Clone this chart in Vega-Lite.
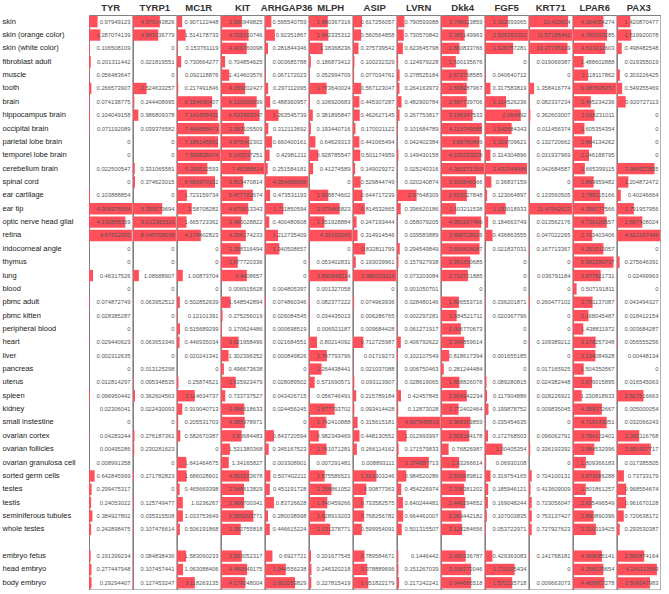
{
  "$schema": "https://vega.github.io/schema/vega-lite/v6.json",
  "padding": {"left": 2, "top": 2, "right": 0, "bottom": 0},
  "background": "white",
  "bounds": "flush",
  "config": {"view": {"stroke": "#808080", "strokeWidth": 1}, "font": "Liberation Sans"},
  "data": {"values": [
    {"t": "skin", "TYR": 0.97949123, "TYRP1": 4.979143826, "MC1R": 0.907122448, "KIT": 3.586949825, "ARHGAP36": 0.595540759, "MLPH": 1.890367316, "ASIP": 0.617256057, "LVRN": 0.790593088, "Dkk4": 2.788113859, "FGF5": 1.322693065, "KRT71": 10.420624, "LPAR6": 4.264054274, "PAX3": 1.420870477},
    {"t": "skin (orange color)", "TYR": 1.287074139, "TYRP1": 4.683136779, "MC1R": 1.514178733, "KIT": 4.728150746, "ARHGAP36": 0.92351867, "MLPH": 1.942335312, "ASIP": 0.560564858, "LVRN": 0.730570842, "Dkk4": 2.385149963, "FGF5": 2.506351052, "KRT71": 11.57185462, "LPAR6": 4.780163285, "PAX3": 1.519920078},
    {"t": "skin (white color)", "TYR": 0.106508109, "TYRP1": 0, "MC1R": 0.153761119, "KIT": 4.416760098, "ARHGAP36": 0.281844346, "MLPH": 1.38368236, "ASIP": 0.375739542, "LVRN": 0.623645798, "Dkk4": 1.860833766, "FGF5": 1.628757281, "KRT71": 10.27795109, "LPAR6": 4.513211603, "PAX3": 0.498482548},
    {"t": "fibroblast adult", "TYR": 0.201311442, "TYRP1": 0.021819551, "MC1R": 0.730664277, "KIT": 0.704854625, "ARHGAP36": 0.003685788, "MLPH": 0.186873412, "ASIP": 0.100232329, "LVRN": 0.124979228, "Dkk4": 1.500135676, "FGF5": 0, "KRT71": 0.019069387, "LPAR6": 1.488602888, "PAX3": 0.019355019},
    {"t": "muscle", "TYR": 0.056483647, "TYRP1": 0, "MC1R": 0.092118876, "KIT": 1.414603576, "ARHGAP36": 0.067172023, "MLPH": 0.052994709, "ASIP": 0.077034761, "LVRN": 0.278525184, "Dkk4": 2.672768585, "FGF5": 0.040640712, "KRT71": 0, "LPAR6": 2.118117862, "PAX3": 0.303226425},
    {"t": "tooth", "TYR": 0.266573907, "TYRP1": 2.524633257, "MC1R": 0.217491846, "KIT": 4.150202427, "ARHGAP36": 0.297112095, "MLPH": 1.773640024, "ASIP": 0.567123047, "LVRN": 0.264163973, "Dkk4": 2.598287967, "FGF5": 0.317583819, "KRT71": 1.358416774, "LPAR6": 6.087545257, "PAX3": 0.549355469},
    {"t": "brain", "TYR": 0.074138775, "TYRP1": 0.244408995, "MC1R": 6.154690407, "KIT": 6.125309099, "ARHGAP36": 0.488360957, "MLPH": 0.106920683, "ASIP": 0.445307287, "LVRN": 0.482900784, "Dkk4": 2.597739706, "FGF5": 1.214526236, "KRT71": 0.082337234, "LPAR6": 2.495234236, "PAX3": 0.920727113},
    {"t": "hippocampus brain", "TYR": 0.104049158, "TYRP1": 0.986809378, "MC1R": 7.141695431, "KIT": 6.633483047, "ARHGAP36": 1.263545739, "MLPH": 0.381895847, "ASIP": 0.462627145, "LVRN": 0.267753817, "Dkk4": 3.196347533, "FGF5": 2.064892, "KRT71": 0.362603007, "LPAR6": 3.018231011, "PAX3": 0},
    {"t": "occipital brain", "TYR": 0.071192089, "TYRP1": 0.039376582, "MC1R": 7.448888471, "KIT": 3.983105509, "ARHGAP36": 0.312113692, "MLPH": 0.193440716, "ASIP": 0.170021122, "LVRN": 0.101684789, "Dkk4": 4.119749585, "FGF5": 1.540684343, "KRT71": 0.011456374, "LPAR6": 1.605354354, "PAX3": 0},
    {"t": "parietal lobe brain", "TYR": 0, "TYRP1": 0, "MC1R": 7.186145561, "KIT": 4.875402302, "ARHGAP36": 0.660400161, "MLPH": 0.64629313, "ASIP": 0.441065494, "LVRN": 0.042402384, "Dkk4": 3.88780899, "FGF5": 1.329709621, "KRT71": 0.132720662, "LPAR6": 2.664134262, "PAX3": 0},
    {"t": "temporel lobe brain", "TYR": 0, "TYRP1": 0, "MC1R": 7.599838074, "KIT": 5.105537251, "ARHGAP36": 0.42981211, "MLPH": 0.928785547, "ASIP": 0.501174959, "LVRN": 0.149430158, "Dkk4": 4.035259228, "FGF5": 0.314304896, "KRT71": 0.031937969, "LPAR6": 2.246188795, "PAX3": 0},
    {"t": "cerebellum brain", "TYR": 0.022500547, "TYRP1": 0.331065581, "MC1R": 5.309512593, "KIT": 7.45388614, "ARHGAP36": 0.251584181, "MLPH": 0.41274589, "ASIP": 0.149029272, "LVRN": 0.025240316, "Dkk4": 4.380271309, "FGF5": 2.432349486, "KRT71": 0.042684587, "LPAR6": 1.665399115, "PAX3": 3.984523855},
    {"t": "spinal cord", "TYR": 0, "TYRP1": 0.374623015, "MC1R": 6.659970102, "KIT": 3.815470814, "ARHGAP36": 4.054688656, "MLPH": 0, "ASIP": 0.529844749, "LVRN": 0.020240874, "Dkk4": 3.532849166, "FGF5": 0.36837159, "KRT71": 0, "LPAR6": 2.899959482, "PAX3": 1.204872472},
    {"t": "ear cartilage", "TYR": 0.103888854, "TYRP1": 0, "MC1R": 1.723159734, "KIT": 5.477782674, "ARHGAP36": 0.473531193, "MLPH": 1.938874602, "ASIP": 0.644717239, "LVRN": 2.07648309, "Dkk4": 2.615027848, "FGF5": 0.123064897, "KRT71": 0.133560505, "LPAR6": 3.788115166, "PAX3": 0.40246664},
    {"t": "ear tip", "TYR": 4.936978594, "TYRP1": 5.399579694, "MC1R": 2.58708282, "KIT": 4.675513343, "ARHGAP36": 1.711850594, "MLPH": 3.075465823, "ASIP": 0.814532665, "LVRN": 0.396620186, "Dkk4": 1.503211538, "FGF5": 1.193018933, "KRT71": 11.47542623, "LPAR6": 4.398177566, "PAX3": 1.791957956},
    {"t": "optic nerve head glial", "TYR": 4.130895559, "TYRP1": 8.012365116, "MC1R": 1.665723362, "KIT": 3.485028822, "ARHGAP36": 0.400480608, "MLPH": 1.551928884, "ASIP": 0.247193444, "LVRN": 0.058079205, "Dkk4": 4.050267469, "FGF5": 0.184663749, "KRT71": 0.013562176, "LPAR6": 4.736100557, "PAX3": 2.687408024},
    {"t": "retina", "TYR": 4.87612993, "TYRP1": 8.045708038, "MC1R": 4.178402823, "KIT": 4.256174233, "ARHGAP36": 1.212735409, "MLPH": 4.36109265, "ASIP": 0.314914546, "LVRN": 0.039583889, "Dkk4": 3.898728626, "FGF5": 0.436863555, "KRT71": 0.047022265, "LPAR6": 2.713403406, "PAX3": 4.612167496},
    {"t": "iridocorneal angle", "TYR": 0, "TYRP1": 0, "MC1R": 0, "KIT": 3.358316494, "ARHGAP36": 1.340508657, "MLPH": 0, "ASIP": 0.832811799, "LVRN": 0.294549849, "Dkk4": 3.890624087, "FGF5": 0.021837031, "KRT71": 0.167713367, "LPAR6": 4.251513057, "PAX3": 0},
    {"t": "thymus", "TYR": 0, "TYRP1": 0, "MC1R": 0, "KIT": 2.877720336, "ARHGAP36": 0, "MLPH": 0.053402831, "ASIP": 0.193039961, "LVRN": 0.157927938, "Dkk4": 2.951650685, "FGF5": 0, "KRT71": 0, "LPAR6": 5.682280737, "PAX3": 0.275646391},
    {"t": "lung", "TYR": 0.46317526, "TYRP1": 1.08688907, "MC1R": 1.00873704, "KIT": 4.4408657, "ARHGAP36": 0, "MLPH": 3.890849214, "ASIP": 2.986203115, "LVRN": 0.073203084, "Dkk4": 2.716721885, "FGF5": 0, "KRT71": 0.036791184, "LPAR6": 3.877821731, "PAX3": 0.02499963},
    {"t": "blood", "TYR": 0, "TYRP1": 0, "MC1R": 0, "KIT": 0.006915628, "ARHGAP36": 0.004805397, "MLPH": 0.001327058, "ASIP": 0, "LVRN": 0.001050701, "Dkk4": 0, "FGF5": 0, "KRT71": 0, "LPAR6": 0.507191811, "PAX3": 0},
    {"t": "pbmc adult", "TYR": 0.074872749, "TYRP1": 0.063952512, "MC1R": 0.502852639, "KIT": 1.648542894, "ARHGAP36": 0.074860346, "MLPH": 0.082377222, "ASIP": 0.074963936, "LVRN": 0.028480146, "Dkk4": 1.806553716, "FGF5": 0.036201871, "KRT71": 0.260477102, "LPAR6": 2.751137087, "PAX3": 0.043494327},
    {"t": "pbmc kitten", "TYR": 0.028385287, "TYRP1": 0, "MC1R": 0.12101391, "KIT": 0.275256019, "ARHGAP36": 0.026084545, "MLPH": 0.034435013, "ASIP": 0.006286765, "LVRN": 0.002297281, "Dkk4": 1.584521711, "FGF5": 0.020367796, "KRT71": 0, "LPAR6": 2.168045487, "PAX3": 0.018412154},
    {"t": "peripheral blood", "TYR": 0, "TYRP1": 0, "MC1R": 0.515689299, "KIT": 0.170624486, "ARHGAP36": 0.000698519, "MLPH": 0.006921187, "ASIP": 0.009684428, "LVRN": 0.061271917, "Dkk4": 2.006770673, "FGF5": 0, "KRT71": 0, "LPAR6": 1.438811972, "PAX3": 0.003684287},
    {"t": "heart", "TYR": 0.029440623, "TYRP1": 0.063653346, "MC1R": 0.446935034, "KIT": 3.021958496, "ARHGAP36": 0.021684551, "MLPH": 0.80214092, "ASIP": 0.712725987, "LVRN": 0.406792622, "Dkk4": 2.349859614, "FGF5": 0, "KRT71": 0.109389212, "LPAR6": 3.178257348, "PAX3": 0.056555256},
    {"t": "liver", "TYR": 0.002312635, "TYRP1": 0, "MC1R": 0.020241341, "KIT": 1.302396352, "ARHGAP36": 0.000849826, "MLPH": 1.797793796, "ASIP": 0.01719273, "LVRN": 0.102107549, "Dkk4": 0.818617394, "FGF5": 0.001655185, "KRT71": 0, "LPAR6": 3.134084928, "PAX3": 0.00448134},
    {"t": "pancreas", "TYR": 0, "TYRP1": 0.013125298, "MC1R": 0, "KIT": 0.496673638, "ARHGAP36": 0, "MLPH": 1.264438441, "ASIP": 0.021037088, "LVRN": 0.006750463, "Dkk4": 0.281244484, "FGF5": 0, "KRT71": 0.017165925, "LPAR6": 1.504350567, "PAX3": 0},
    {"t": "uterus", "TYR": 0.012814297, "TYRP1": 0.095348535, "MC1R": 0.25874521, "KIT": 2.535923479, "ARHGAP36": 0.028089502, "MLPH": 0.571690571, "ASIP": 0.093113907, "LVRN": 0.028619065, "Dkk4": 1.858826078, "FGF5": 0.089280815, "KRT71": 0.024382448, "LPAR6": 2.679015895, "PAX3": 0.016545063},
    {"t": "spleen", "TYR": 0.096950442, "TYRP1": 0.362604563, "MC1R": 3.114634737, "KIT": 0.733737527, "ARHGAP36": 0.043426715, "MLPH": 0.056746491, "ASIP": 0.215789184, "LVRN": 0.42457845, "Dkk4": 2.604342234, "FGF5": 0.117904886, "KRT71": 0.028226921, "LPAR6": 1.230818933, "PAX3": 2.817516663},
    {"t": "kidney", "TYR": 0.02306041, "TYRP1": 0.022430093, "MC1R": 0.919040713, "KIT": 3.996618633, "ARHGAP36": 0.024456245, "MLPH": 2.577793702, "ASIP": 0.093414428, "LVRN": 0.12873028, "Dkk4": 1.772402464, "FGF5": 0.199878752, "KRT71": 0.009835045, "LPAR6": 4.059372667, "PAX3": 0.005000054},
    {"t": "small instestine", "TYR": 0, "TYRP1": 0, "MC1R": 0.205531703, "KIT": 4.085978971, "ARHGAP36": 0, "MLPH": 1.742410888, "ASIP": 0.315615181, "LVRN": 4.607945819, "Dkk4": 2.968203859, "FGF5": 0.035454635, "KRT71": 0, "LPAR6": 4.719143051, "PAX3": 0.032066243},
    {"t": "ovarian cortex", "TYR": 0.04283244, "TYRP1": 0.276187361, "MC1R": 0.582670387, "KIT": 3.53684483, "ARHGAP36": 0.843720594, "MLPH": 0.982349469, "ASIP": 0.448130552, "LVRN": 1.012993997, "Dkk4": 2.856184178, "FGF5": 0.172768503, "KRT71": 0.096062791, "LPAR6": 3.784122401, "PAX3": 2.362116768},
    {"t": "ovarian follicles", "TYR": 0.00495286, "TYRP1": 0.230281623, "MC1R": 0, "KIT": 1.531380368, "ARHGAP36": 0.345167523, "MLPH": 1.761071281, "ASIP": 0.266114162, "LVRN": 0.171579833, "Dkk4": 0.76826987, "FGF5": 1.00405354, "KRT71": 0.336193392, "LPAR6": 2.984532996, "PAX3": 3.591937717},
    {"t": "ovarian granulosa cell", "TYR": 0.008991358, "TYRP1": 0, "MC1R": 1.641464675, "KIT": 1.34165827, "ARHGAP36": 0.003308901, "MLPH": 0.007291481, "ASIP": 0.008893111, "LVRN": 3.374887713, "Dkk4": 1.83266614, "FGF5": 0.06930108, "KRT71": 0, "LPAR6": 1.809366183, "PAX3": 0.017385505},
    {"t": "sorted germ cells", "TYR": 0.642845999, "TYRP1": 0.171782823, "MC1R": 1.686028601, "KIT": 4.851533678, "ARHGAP36": 0.507402211, "MLPH": 1.575586521, "ASIP": 1.613303246, "LVRN": 0.984520286, "Dkk4": 2.500689812, "FGF5": 0.319754165, "KRT71": 0.724100131, "LPAR6": 3.873686288, "PAX3": 0.73733179},
    {"t": "testes", "TYR": 0.299475317, "TYRP1": 0, "MC1R": 0.465669398, "KIT": 3.948613829, "ARHGAP36": 0.451191728, "MLPH": 2.258861052, "ASIP": 0.90877363, "LVRN": 0.454226974, "Dkk4": 2.336381202, "FGF5": 0.185946121, "KRT71": 0.413609009, "LPAR6": 1.801861257, "PAX3": 0.968554674},
    {"t": "testis", "TYR": 0.24053022, "TYRP1": 0.125749477, "MC1R": 1.0236267, "KIT": 3.966700341, "ARHGAP36": 0.83726628, "MLPH": 1.840459266, "ASIP": 0.733582575, "LVRN": 0.640244481, "Dkk4": 2.446294652, "FGF5": 0.169048244, "KRT71": 0.723056047, "LPAR6": 2.635496549, "PAX3": 0.961670128},
    {"t": "seminiferous tubules", "TYR": 0.384927802, "TYRP1": 0.035315508, "MC1R": 1.033753649, "KIT": 5.559293771, "ARHGAP36": 0.280038998, "MLPH": 1.628919203, "ASIP": 0.768256782, "LVRN": 0.664462007, "Dkk4": 2.069442182, "FGF5": 0.107003835, "KRT71": 0.753137427, "LPAR6": 2.890890396, "PAX3": 0.720638172},
    {"t": "whole testes", "TYR": 0.242898475, "TYRP1": 0.107476614, "MC1R": 0.506191868, "KIT": 3.392755818, "ARHGAP36": 0.446615224, "MLPH": 2.131378771, "ASIP": 0.599954091, "LVRN": 0.501315507, "Dkk4": 2.128284656, "FGF5": 0.053722971, "KRT71": 0.727927623, "LPAR6": 3.210319425, "PAX3": 0.293530387},
    {"t": "embryo fetus", "TYR": 0.191399234, "TYRP1": 0.084838436, "MC1R": 1.583090233, "KIT": 3.563052317, "ARHGAP36": 0.6927721, "MLPH": 0.201677545, "ASIP": 0.789584671, "LVRN": 0.1446442, "Dkk4": 2.490336787, "FGF5": 0.429363083, "KRT71": 0.141768181, "LPAR6": 4.068085141, "PAX3": 2.890874164},
    {"t": "head embryo", "TYR": 0.277447948, "TYRP1": 0.107457441, "MC1R": 1.063088406, "KIT": 4.490649175, "ARHGAP36": 1.944556238, "MLPH": 0.246320218, "ASIP": 0.978889696, "LVRN": 0.151267039, "Dkk4": 3.036272046, "FGF5": 1.711925434, "KRT71": 0, "LPAR6": 4.256029654, "PAX3": 4.241113543},
    {"t": "body embryo", "TYR": 0.29294407, "TYRP1": 0.127453247, "MC1R": 3.118263135, "KIT": 4.178248004, "ARHGAP36": 2.802053829, "MLPH": 0.227815419, "ASIP": 1.051822179, "LVRN": 0.217242241, "Dkk4": 3.044565518, "FGF5": 1.572135718, "KRT71": 0.009663073, "LPAR6": 4.408907278, "PAX3": 3.509347983}
  ]},
  "transform": [
    {"fold": ["TYR", "TYRP1", "MC1R", "KIT", "ARHGAP36", "MLPH", "ASIP", "LVRN", "Dkk4", "FGF5", "KRT71", "LPAR6", "PAX3"], "as": ["gene", "v"]},
    {"joinaggregate": [{"op": "max", "field": "v", "as": "m"}], "groupby": ["gene"]}
  ],
  "facet": {"column": {"field": "gene", "type": "nominal",
    "sort": ["TYR", "TYRP1", "MC1R", "KIT", "ARHGAP36", "MLPH", "ASIP", "LVRN", "Dkk4", "FGF5", "KRT71", "LPAR6", "PAX3"],
    "header": {"title": null, "labelFontSize": 9.5, "labelFontWeight": "bold", "labelColor": "#333333", "labelPadding": 3, "labelFont": "Liberation Sans", "labelLimit": 0}}},
  "spacing": 0,
  "resolve": {"scale": {"x": "independent"}},
  "spec": {
    "width": 43.4,
    "height": 574.5,
    "layer": [
      {"mark": {"type": "bar", "color": "#ff4f5b"},
       "encoding": {
         "y": {"field": "t", "type": "nominal",
           "scale": {"domain": ["skin", "skin (orange color)", "skin (white color)", "fibroblast adult", "muscle", "tooth", "brain", "hippocampus brain", "occipital brain", "parietal lobe brain", "temporel lobe brain", "cerebellum brain", "spinal cord", "ear cartilage", "ear tip", "optic nerve head glial", "retina", "iridocorneal angle", "thymus", "lung", "blood", "pbmc adult", "pbmc kitten", "peripheral blood", "heart", "liver", "pancreas", "uterus", "spleen", "kidney", "small instestine", "ovarian cortex", "ovarian follicles", "ovarian granulosa cell", "sorted germ cells", "testes", "testis", "seminiferous tubules", "whole testes", " ", "embryo fetus", "head embryo", "body embryo"], "paddingInner": 0.15, "paddingOuter": 0.075},
           "axis": {"title": null, "domain": false, "ticks": false, "labelAlign": "left", "labelPadding": 87, "labelFontSize": 7.5, "labelColor": "#222222", "labelFont": "Liberation Sans", "labelLimit": 0}},
         "x": {"field": "v", "type": "quantitative", "scale": {"nice": false, "zero": true}, "axis": null}
       }},
      {"mark": {"type": "text", "align": "right", "dx": -2, "fontSize": 5.8, "color": "#555555", "font": "Liberation Sans Narrow, Liberation Sans"},
       "encoding": {
         "y": {"field": "t", "type": "nominal"},
         "x": {"field": "m", "type": "quantitative", "axis": null},
         "text": {"field": "v", "type": "nominal"}
       }}
    ]
  }
}
